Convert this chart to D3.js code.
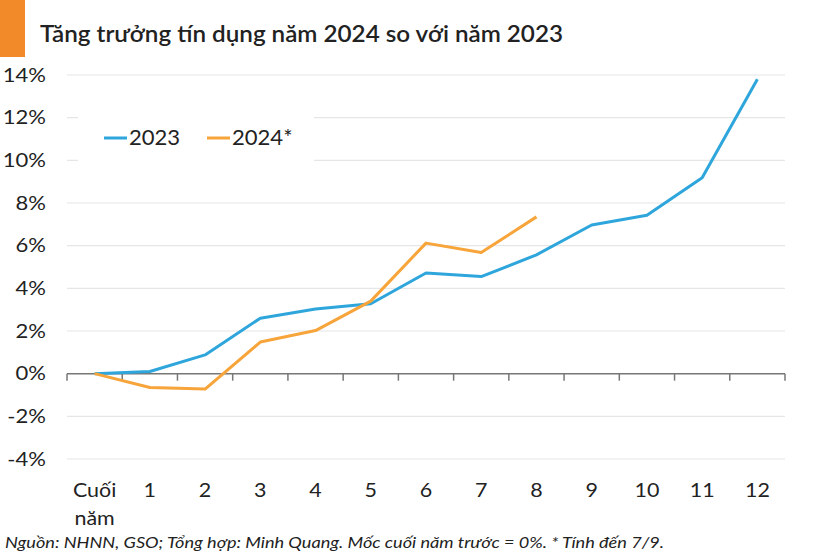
<!DOCTYPE html>
<html><head><meta charset="utf-8">
<script src="https://cdn.jsdelivr.net/npm/d3@7"></script>
<style>
body{margin:0;background:#fff;}
svg{display:block;font-family:Lato,"Noto Sans",sans-serif;}
</style></head>
<body><svg id="c" width="831" height="554"></svg>
<script>
const categories = ["Cuối năm","1","2","3","4","5","6","7","8","9","10","11","12"];
const values2023 = [0,0.1,0.88,2.6,3.03,3.28,4.72,4.55,5.57,6.97,7.43,9.18,13.8];
const values2024 = [0,-0.65,-0.72,1.48,2.02,3.4,6.12,5.68,7.35];
const yTicks = [-4,-2,0,2,4,6,8,10,12,14];
const seriesNames = ["2023","2024*"];
const colors = ["#2ea6dc","#f7a43a"];

const svg = d3.select("#c");
const x = d3.scaleBand().domain(categories).range([67,785]);
const y = d3.scaleLinear().domain([-4,14]).range([459,75]);

function widen(sel, f){
  sel.each(function(){
    const w = this.getComputedTextLength();
    d3.select(this).attr("textLength", w*f).attr("lengthAdjust","spacingAndGlyphs");
  });
}

// title
svg.append("rect").attr("x",0).attr("y",0).attr("width",25).attr("height",57).attr("fill","#f28a2a");
svg.append("text").attr("x",40).attr("y",42).attr("font-size",22.5).attr("font-weight",600)
  .attr("fill","#222").attr("textLength",523).attr("lengthAdjust","spacingAndGlyphs")
  .text("Tăng trưởng tín dụng năm 2024 so với năm 2023");

// grid
svg.append("g").selectAll("line").data(yTicks.filter(d=>d!==0)).join("line")
  .attr("x1",67).attr("x2",785).attr("y1",d=>y(d)).attr("y2",d=>y(d))
  .attr("stroke","#e6e6e6").attr("stroke-width",1.2);

// y labels
const yl = svg.append("g").selectAll("text").data(yTicks).join("text")
  .attr("x",46).attr("y",d=>y(d)).attr("dy","0.35em").attr("text-anchor","end")
  .attr("font-size",19.5).attr("fill","#222").text(d=>d+"%");
widen(yl,1.13);

// zero axis
const ax = svg.append("g").attr("transform",`translate(0,${y(0)})`)
  .call(d3.axisBottom(x).tickSize(0).tickFormat(""));
ax.select(".domain").attr("stroke","#777").attr("stroke-width",1.5).attr("d","M67,0H785");
const bounds = categories.map(c=>x(c)).concat([785]);
svg.append("g").selectAll("line").data(bounds).join("line")
  .attr("x1",d=>d).attr("x2",d=>d).attr("y1",y(0)).attr("y2",y(0)+7)
  .attr("stroke","#777").attr("stroke-width",1.5);

// x labels
const xg = svg.append("g");
categories.forEach(d=>{
  d.split(" ").forEach((p,i)=>{
    const t = xg.append("text").attr("x",x(d)+x.bandwidth()/2).attr("y",497+i*28)
      .attr("text-anchor","middle").attr("font-size",19.5).attr("fill","#222").text(p);
    widen(t,1.1);
  });
});

// lines
const line = d3.line().x((d,i)=>x(categories[i])+x.bandwidth()/2).y(d=>y(d));
[values2023,values2024].forEach((vals,k)=>{
  svg.append("path").datum(vals).attr("d",line).attr("fill","none")
    .attr("stroke",colors[k]).attr("stroke-width",3).attr("stroke-linejoin","round");
});

// legend
const lg = svg.append("g");
lg.append("rect").attr("x",78).attr("y",100).attr("width",236).attr("height",70).attr("fill","#fff");
const lx = [104,207];
seriesNames.forEach((n,i)=>{
  lg.append("line").attr("x1",lx[i]).attr("x2",lx[i]+23).attr("y1",138).attr("y2",138)
    .attr("stroke",colors[i]).attr("stroke-width",3);
  const t = lg.append("text").attr("x",lx[i]+25).attr("y",138).attr("dy","0.35em").attr("font-size",21)
    .attr("fill","#222").text(n);
  widen(t,1.05);
});

// footer
svg.append("text").attr("x",5).attr("y",548).attr("font-size",16).attr("font-style","italic")
  .attr("fill","#222").attr("textLength",659).attr("lengthAdjust","spacingAndGlyphs")
  .text("Nguồn: NHNN, GSO; Tổng hợp: Minh Quang. Mốc cuối năm trước = 0%. * Tính đến 7/9.");
</script></body></html>
